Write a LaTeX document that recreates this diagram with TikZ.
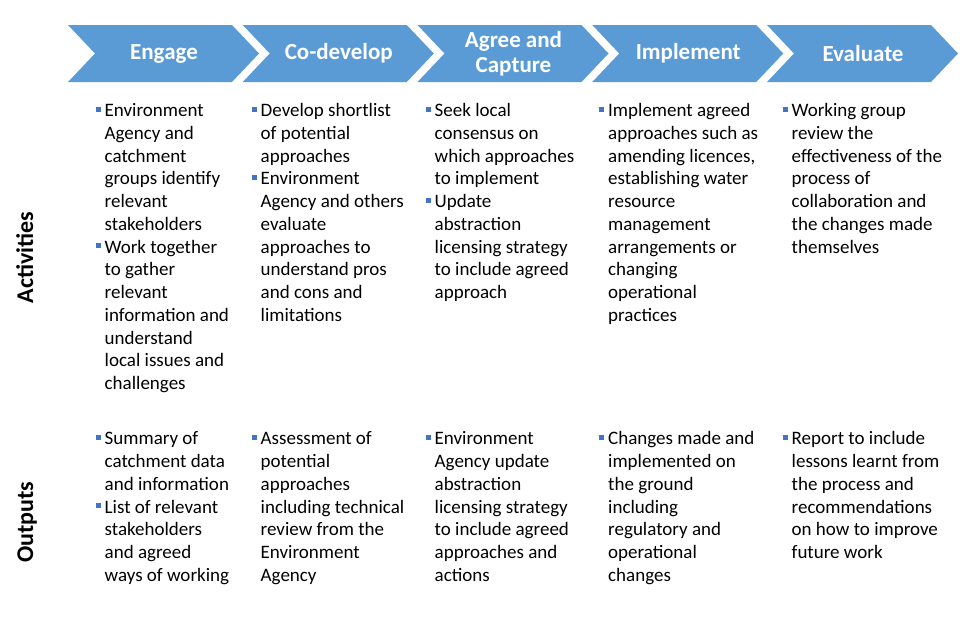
\documentclass[tikz,border=0pt]{standalone}
\usepackage{fontspec}
\setmainfont{Carlito}
\definecolor{stageblue}{HTML}{5B9BD5}
\definecolor{bulletblue}{HTML}{4472C4}
\newcommand\bul{\leavevmode\strut\llap{\textcolor{bulletblue}{\rule[5pt]{5pt}{5pt}}\hspace{4pt}}}
\tikzset{
  stage/.style={fill=stageblue},
  stagetext/.style={text=white, align=center, inner sep=0pt,
    font=\fontsize{23}{25}\selectfont\bfseries},
  rowlabel/.style={rotate=90, anchor=base, inner sep=0pt,
    font=\fontsize{24}{28}\selectfont\bfseries},
  item/.style={anchor=north west, inner sep=0pt, align=left,
    font=\fontsize{19}{22.75}\selectfont}
}
\begin{document}
\begin{tikzpicture}[x=1pt,y=-1pt]
    \useasboundingbox[fill=white] (0,0) rectangle (960,640);
    % chevrons
    \foreach \i/\name/\lbl in {0/engage/Engage, 1/codevelop/Co-develop,
        2/agree/{Agree and\\Capture}, 3/implement/Implement, 4/evaluate/Evaluate}{
        \pgfmathsetmacro\xs{68+174.75*\i}
        \fill[stage] (\xs,25) -- ++(164,0) -- ++(27,28.5) -- ++(-27,28.5)
            -- ++(-164,0) -- ++(27,-28.5) -- cycle;
        \node[stagetext] (\name) at (\xs+96,53.5) {\lbl};
    }
    % row labels
    \node[rowlabel] (activities) at (33,257.5) {Activities};
    \node[rowlabel] (outputs) at (33,522) {Outputs};
    % activities
    \node[item] (act1) at (104.5,100.6) {\bul Environment\\Agency and\\catchment\\groups identify\\relevant\\stakeholders\\
        \bul Work together\\to gather\\relevant\\information and\\understand\\local issues and\\challenges};
    \node[item] (act2) at (260.5,100.6) {\bul Develop shortlist\\of potential\\approaches\\
        \bul Environment\\Agency and others\\evaluate\\approaches to\\understand pros\\and cons and\\limitations};
    \node[item] (act3) at (434.5,100.6) {\bul Seek local\\consensus on\\which approaches\\to implement\\
        \bul Update\\abstraction\\licensing strategy\\to include agreed\\approach};
    \node[item] (act4) at (608,100.6) {\bul Implement agreed\\approaches such as\\amending licences,\\establishing water\\resource\\management\\arrangements or\\changing\\operational\\practices};
    \node[item] (act5) at (791.5,100.6) {\bul Working group\\review the\\effectiveness of the\\process of\\collaboration and\\the changes made\\themselves};
    % outputs
    \node[item] (out1) at (104.5,428.8) {\bul Summary of\\catchment data\\and information\\
        \bul List of relevant\\stakeholders\\and agreed\\ways of working};
    \node[item] (out2) at (260.5,428.8) {\bul Assessment of\\potential\\approaches\\including technical\\review from the\\Environment\\Agency};
    \node[item] (out3) at (434.5,428.8) {\bul Environment\\Agency update\\abstraction\\licensing strategy\\to include agreed\\approaches and\\actions};
    \node[item] (out4) at (608,428.8) {\bul Changes made and\\implemented on\\the ground\\including\\regulatory and\\operational\\changes};
    \node[item] (out5) at (791.5,428.8) {\bul Report to include\\lessons learnt from\\the process and\\recommendations\\on how to improve\\future work};
\end{tikzpicture}
\end{document}
